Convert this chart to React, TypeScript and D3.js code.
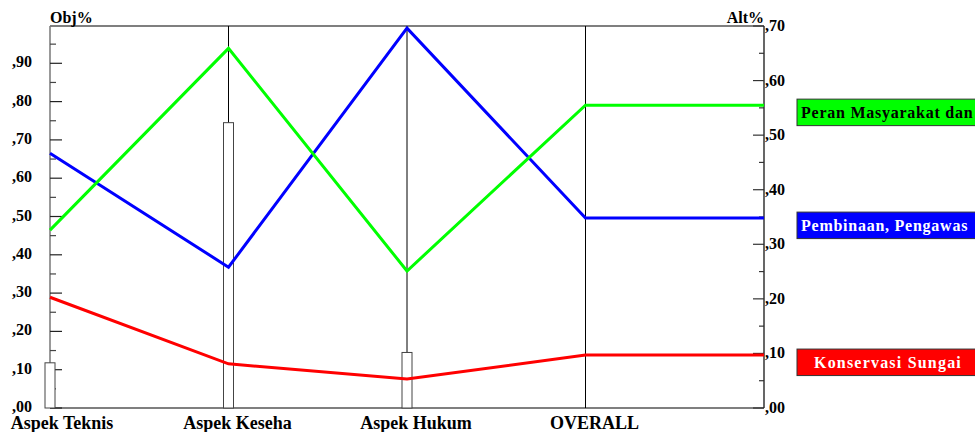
import React from "react";
import * as d3 from "d3";

const categories = ["Aspek Teknis", "Aspek Keseha", "Aspek Hukum", "OVERALL"];
const objWeights = [0.118, 0.745, 0.145]; // bars, left axis (Obj%)
const seriesNames = ["Peran Masyarakat dan", "Pembinaan, Pengawas", "Konservasi Sungai"];
const seriesColors = ["#00ff00", "#0000ff", "#ff0000"];
const seriesText = ["#000000", "#ffffff", "#ffffff"];
const greenValues = [0.326, 0.659, 0.251, 0.555];
const blueValues = [0.467, 0.258, 0.696, 0.348];
const redValues = [0.203, 0.081, 0.053, 0.097];
const seriesValues = [greenValues, blueValues, redValues];
const leftTicks = [0, 0.1, 0.2, 0.3, 0.4, 0.5, 0.6, 0.7, 0.8, 0.9];
const leftMinor = [0.05, 0.15, 0.25, 0.35, 0.45, 0.55, 0.65, 0.75, 0.85, 0.95];
const rightTicks = [0, 0.1, 0.2, 0.3, 0.4, 0.5, 0.6, 0.7];
const rightMinor = [0.05, 0.15, 0.25, 0.35, 0.45, 0.55, 0.65];

const W = 975;
const H = 432;
const L = 50;
const R = 764;
const T = 26;
const B = 408;
const FONT = "'Liberation Serif', 'Times New Roman', serif";

const fmt = (v: number) => "," + d3.format("02d")(Math.round(v * 100));

function measure(text: string, size: number, spacing: number) {
  if (typeof document === "undefined") return text.length * size * 0.5;
  const c = document.createElement("canvas").getContext("2d");
  if (!c) return text.length * size * 0.5;
  c.font = `bold ${size}px 'Liberation Serif'`;
  return c.measureText(text).width + spacing * text.length;
}

export default function App() {
  const x = d3.scaleLinear().domain([0, categories.length]).range([L, R]);
  const yL = d3.scaleLinear().domain([0, 1]).range([B, 25]);
  const yR = d3.scaleLinear().domain([0, 0.7]).range([B, T]);

  const lineGen = d3
    .line<number>()
    .x((_, i) => (i < categories.length ? x(i) : x(categories.length)))
    .y((d) => yR(d));

  const boxX = 797;
  const boxW = 182;
  const legendSize = 16;
  const legendSpacing = 1.2;

  return (
    <svg
      width={W}
      height={H}
      style={{ position: "absolute", left: 0, top: 0, background: "#fff" }}
      fontFamily={FONT}
      fontWeight="bold"
    >
      {/* category vertical lines */}
      {categories.map((c, i) =>
        i === 0 ? null : (
          <line key={c} x1={x(i)} x2={x(i)} y1={T} y2={B} stroke="#000" strokeWidth={1} />
        )
      )}
      {/* frame */}
      <line x1={L} x2={R} y1={T} y2={T} stroke="#000" strokeWidth={1.2} />
      <line x1={L} x2={R} y1={B} y2={B} stroke="#000" strokeWidth={1.2} />
      <line x1={R} x2={R} y1={T} y2={B} stroke="#000" strokeWidth={1.2} />
      <line x1={L} x2={L} y1={T} y2={B} stroke="#777" strokeWidth={1.5} />

      {/* left ticks */}
      {leftTicks.map((t) => (
        <g key={"l" + t}>
          <line x1={L} x2={L + 12} y1={yL(t)} y2={yL(t)} stroke="#222" strokeWidth={1.2} />
          <text x={32} y={yL(t) + 4} textAnchor="end" fontSize={16}>
            {fmt(t)}
          </text>
        </g>
      ))}
      {leftMinor.map((t) => (
        <line key={"lm" + t} x1={L} x2={L + 6} y1={yL(t)} y2={yL(t)} stroke="#444" strokeWidth={1.2} />
      ))}
      {/* right ticks */}
      {rightTicks.map((t) => (
        <g key={"r" + t}>
          <line x1={R - 11} x2={R} y1={yR(t)} y2={yR(t)} stroke="#333" strokeWidth={1.2} />
          <text x={R + 1} y={yR(t) + 5} textAnchor="start" fontSize={16}>
            {fmt(t)}
          </text>
        </g>
      ))}
      {rightMinor.map((t) => (
        <line key={"rm" + t} x1={R - 5} x2={R} y1={yR(t)} y2={yR(t)} stroke="#333" strokeWidth={1.2} />
      ))}

      {/* axis titles */}
      <text x={L} y={23} fontSize={16}>
        Obj%
      </text>
      <text x={R} y={23} fontSize={16} textAnchor="end">
        Alt%
      </text>

      {/* bars */}
      {objWeights.map((w, i) => (
        <rect
          key={"b" + i}
          x={x(i) - 5}
          y={yL(w)}
          width={10}
          height={B - yL(w)}
          fill="#fff"
          stroke="#444"
          strokeWidth={1}
        />
      ))}

      {/* lines */}
      {[2, 1, 0].map((s) => {
        const vals = [...seriesValues[s], seriesValues[s][seriesValues[s].length - 1]];
        return (
          <path
            key={"s" + s}
            d={lineGen(vals) || ""}
            fill="none"
            stroke={seriesColors[s]}
            strokeWidth={3}
            strokeLinejoin="miter"
          />
        );
      })}

      {/* category labels */}
      {categories.map((c, i) => (
        <text key={"c" + c} x={x(i) + 9 + (i === 0 ? 3 : 0)} y={428.5} textAnchor="middle" fontSize={18}>
          {c}
        </text>
      ))}

      {/* legend boxes */}
      {seriesNames.map((n, s) => {
        const v = seriesValues[s][seriesValues[s].length - 1];
        const top = yR(v) - 6;
        const tw = measure(n, legendSize, legendSpacing);
        const fits = tw < boxW - 8;
        return (
          <g key={"lg" + s}>
            <rect
              x={boxX}
              y={top}
              width={boxW}
              height={26.5}
              fill={seriesColors[s]}
              stroke="#333"
              strokeWidth={1}
            />
            <text
              x={fits ? boxX + boxW / 2 : boxX + 4}
              y={top + 19}
              textAnchor={fits ? "middle" : "start"}
              fontSize={legendSize}
              letterSpacing={fits ? legendSpacing : 0.75}
              fill={seriesText[s]}
            >
              {n}
            </text>
          </g>
        );
      })}
    </svg>
  );
}
